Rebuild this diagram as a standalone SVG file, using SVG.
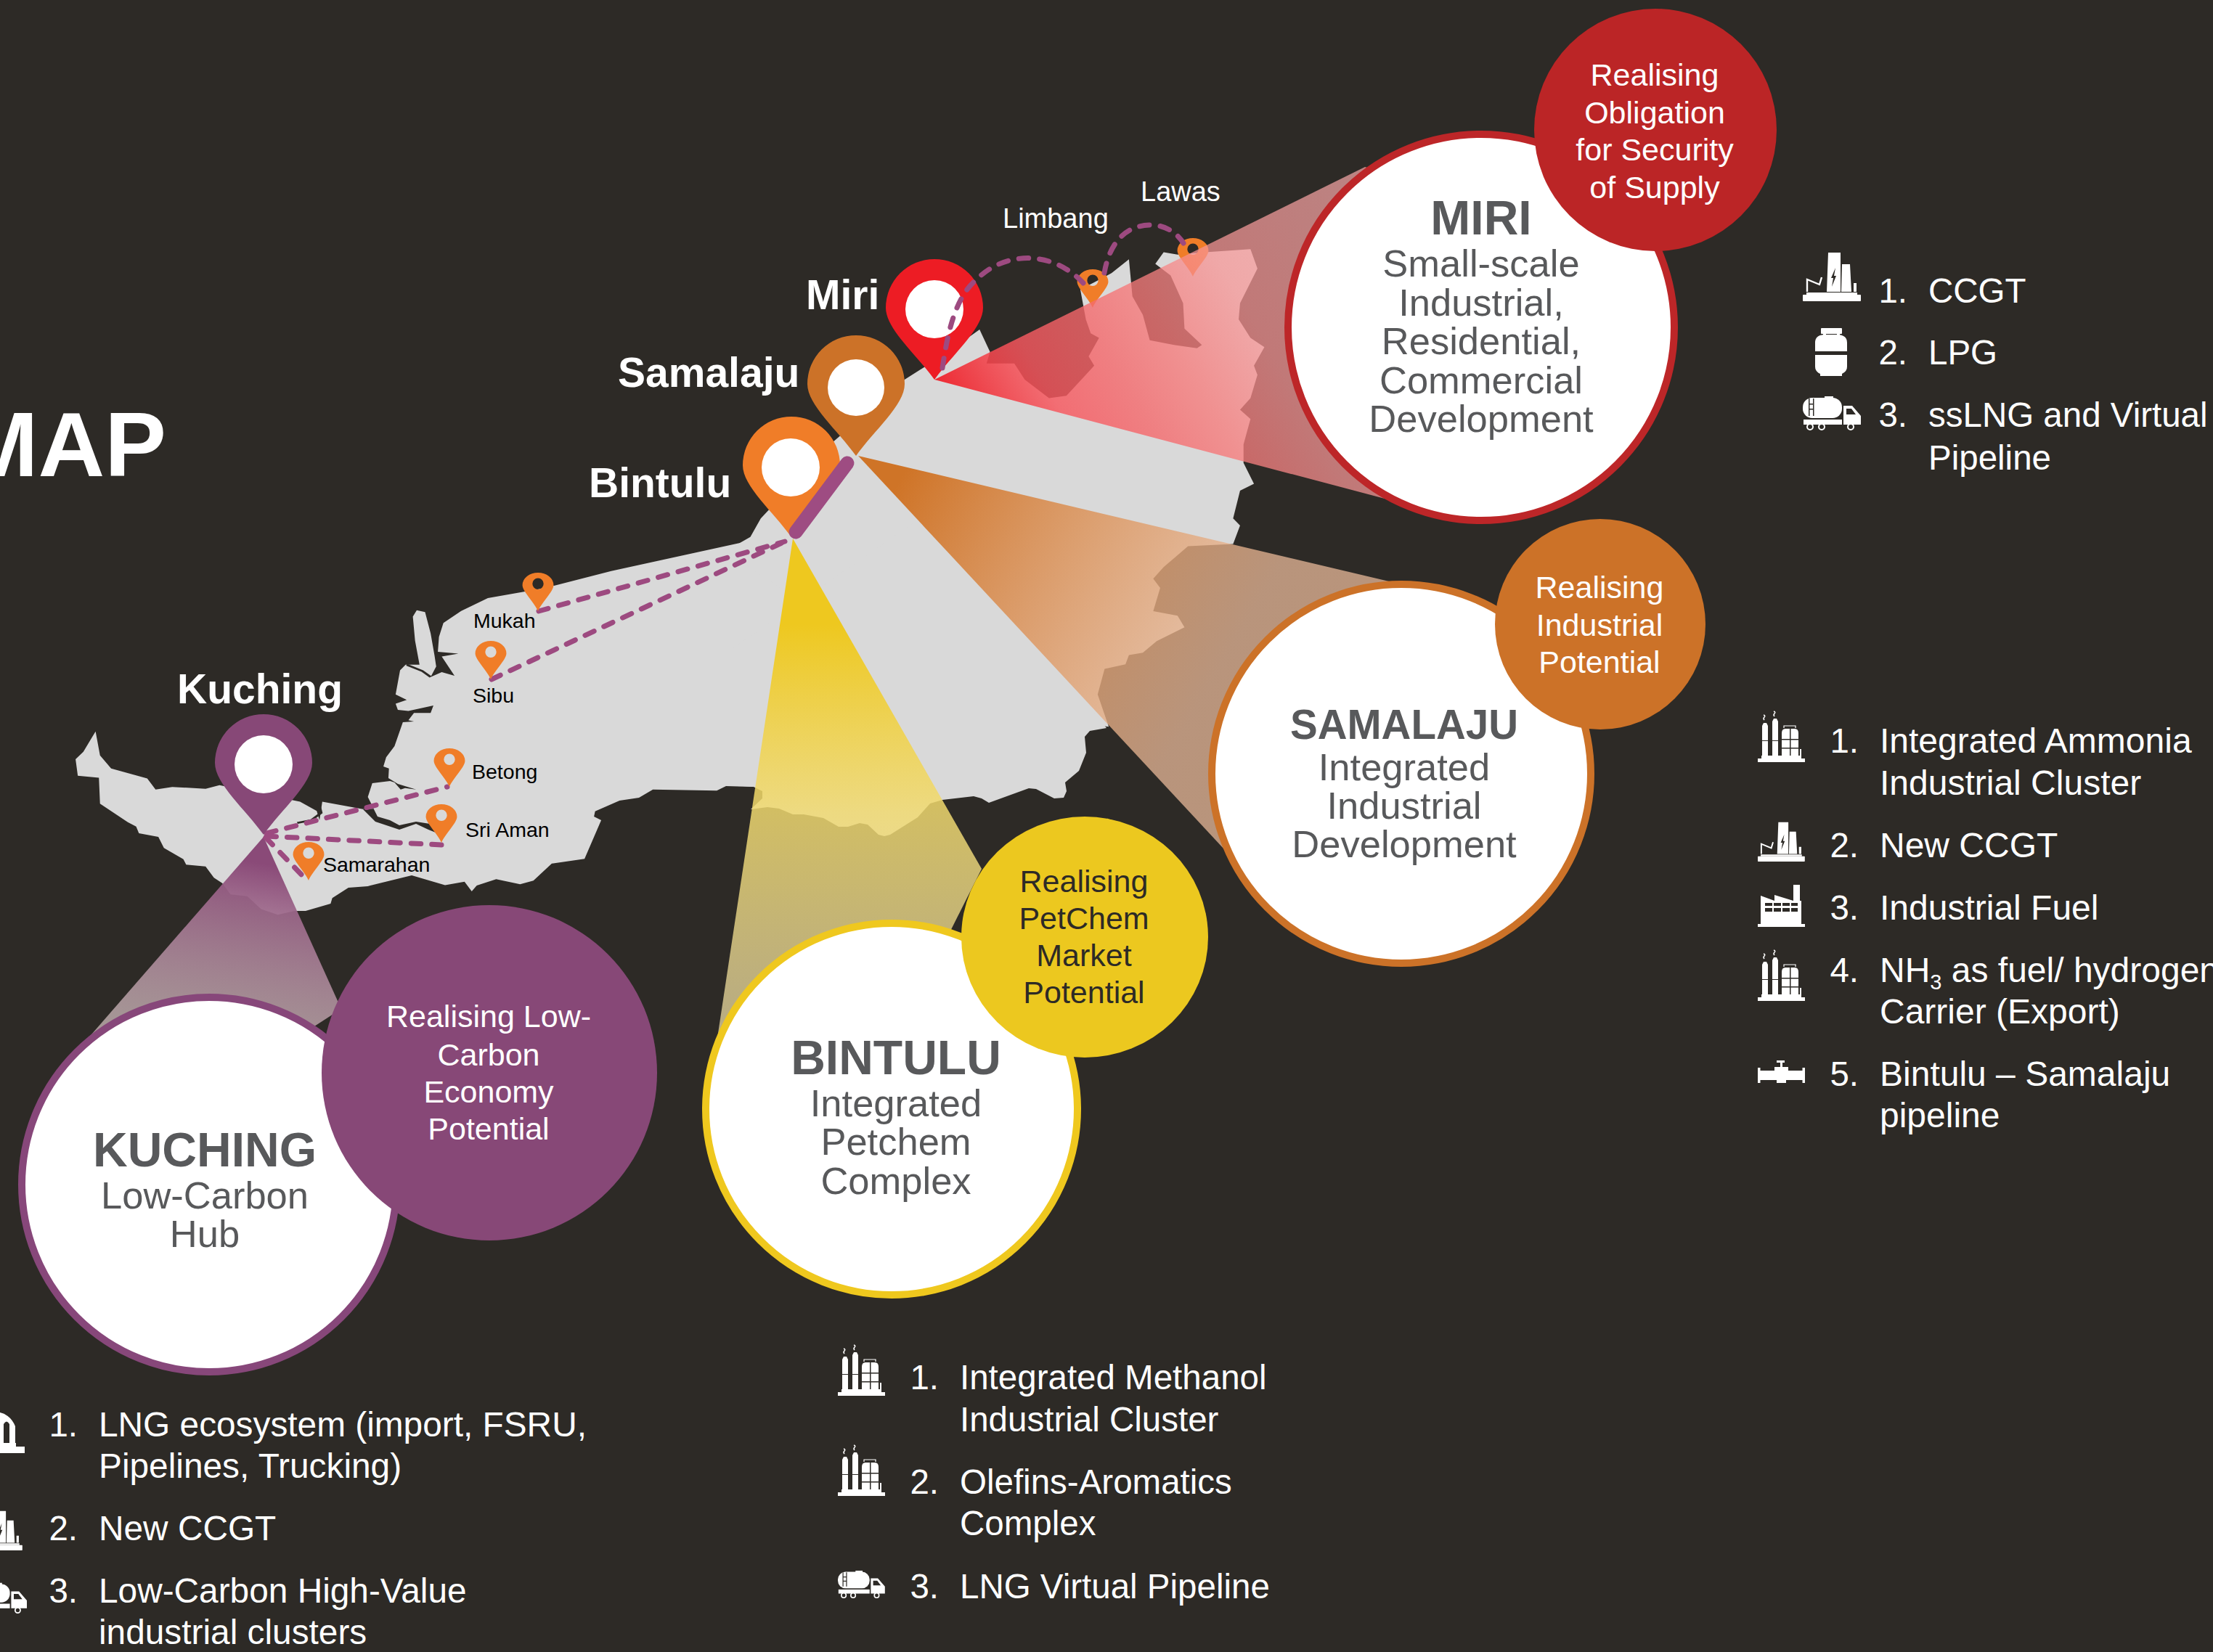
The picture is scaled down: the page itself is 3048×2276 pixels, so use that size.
<svg xmlns="http://www.w3.org/2000/svg" width="3048" height="2276" viewBox="0 0 3048 2276">
<style>
text{font-family:"Liberation Sans",Arial,sans-serif}
.city{font-size:57px;font-weight:700;fill:#fff}
.ttl{font-size:66px;font-weight:700;fill:#58595b;text-anchor:middle}
.sub{font-size:52.500px;fill:#58595b;text-anchor:middle}
.real{font-size:43px;fill:#fff;text-anchor:middle}
.realk{font-size:43px;fill:#2d2a26;text-anchor:middle}
.wl{font-size:38px;fill:#fff}
.ml{font-size:28.500px;fill:#000}
.li{font-size:47.500px;fill:#fff}
.no{font-size:47.500px;fill:#fff;text-anchor:end}
.land{fill:#d9d9d9}
.dash{fill:none;stroke:#9d4a80;stroke-width:7;stroke-dasharray:13.500 15;stroke-linecap:round}
.ring{fill:#fff;stroke-width:10}
.dk{fill:#2d2a26}
.sq{fill:none;stroke:#fff;stroke-width:1.5}
</style>
<defs>
<path id="pinL" d="M0,0 C-25,-35 -67,-70 -67,-99 A67,67 0 0 1 67,-99 C67,-70 25,-35 0,0 Z"/>
<path id="pinS" fill="#f07d28" fill-rule="evenodd" transform="scale(.32)" d="M0,0 C-10,-30 -67,-85 -67,-112 A67,54 0 0 1 67,-112 C67,-85 10,-30 0,0 Z M-24,-118 a24,24 0 1 0 48,0 a24,24 0 1 0 -48,0 Z"/>
<linearGradient id="gMiri" gradientUnits="userSpaceOnUse" x1="1287" y1="523" x2="1847" y2="200">
<stop offset="0" stop-color="#ee2a33"/><stop offset=".08" stop-color="#f03a42" stop-opacity=".92"/><stop offset=".2" stop-color="#f7585f" stop-opacity=".83"/><stop offset=".35" stop-color="#f5696c" stop-opacity=".8"/><stop offset=".48" stop-color="#f77b7b" stop-opacity=".77"/><stop offset=".65" stop-color="#f89696" stop-opacity=".73"/><stop offset="1" stop-color="#f9aaaa" stop-opacity=".7"/></linearGradient>
<linearGradient id="gSam" gradientUnits="userSpaceOnUse" x1="1240" y1="660" x2="1680" y2="920">
<stop offset="0" stop-color="#cf7427"/><stop offset="1" stop-color="#eaba9a" stop-opacity=".74"/></linearGradient>
<linearGradient id="gBin" gradientUnits="userSpaceOnUse" x1="1092" y1="860" x2="1092" y2="1400">
<stop offset="0" stop-color="#eec81f"/><stop offset=".48" stop-color="#f1da70" stop-opacity=".84"/><stop offset="1" stop-color="#e8d8a0" stop-opacity=".75"/></linearGradient>
<linearGradient id="gKuc" gradientUnits="userSpaceOnUse" x1="363" y1="1190" x2="320" y2="1440">
<stop offset="0" stop-color="#8a4a78"/><stop offset="1" stop-color="#d9c5c5" stop-opacity=".7"/></linearGradient>
<g id="icCcgt" fill="#fff">
<rect x="0" y="-9" width="80" height="9" rx="1"/><rect x="5" y="-12" width="70" height="3"/>
<path d="M33,-13 L35,-67 L52,-67 L52,-13 Z M53,-13 L54,-51 L65,-51 L67,-13 Z M70,-13 V-25 H74 V-13 Z"/>
<path d="M6,-13 V-30 L23,-23 L26,-33" fill="none" stroke="#fff" stroke-width="2.400"/>
<path class="dk" d="M45,-46 L39,-32 L42,-32 L40,-20 L46,-35 L43,-35 Z"/>
</g>
<g id="icRef" fill="#fff">
<rect x="0" y="-5" width="65" height="5"/><rect x="5" y="-9" width="55" height="4"/>
<path d="M6,-9 V-50 L8,-54 H12 L14,-50 V-9 Z M20,-9 V-56 L22,-60 H26 L28,-56 V-9 Z"/>
<path d="M33,-9 V-40 Q33,-46 38,-46 H51 Q56,-46 56,-40 V-9 Z M58,-9 V-18 H60 V-9 Z"/>
<path class="dk" d="M33,-32 H56 V-30.500 H33 Z M33,-20 H56 V-18.500 H33 Z M44,-46 H45.500 V-9 H44 Z M6,-30 H14 V-29 H6 Z M20,-30 H28 V-29 H20 Z"/>
<path d="M36,-47 V-50 H52 V-47" fill="none" stroke="#fff" stroke-width="1.200"/>
<path class="sq" d="M9,-58 Q7,-60 9,-62 T8,-65 M23,-63 Q21,-65 23,-67 T22,-70"/>
</g>
<g id="icFac" fill="#fff">
<rect x="0" y="-4" width="65" height="4"/>
<path d="M4,-4 V-43 L23,-36 V-44 L49,-36 V-58 H58 V-36 L60,-36 V-4 Z"/>
<path class="dk" d="M10,-33 H20 V-29 H10 Z M22,-33 H32 V-29 H22 Z M34,-33 H44 V-29 H34 Z M46,-33 H55 V-29 H46 Z M10,-26 H20 V-21 H10 Z M22,-26 H32 V-21 H22 Z M34,-26 H44 V-21 H34 Z M46,-26 H55 V-21 H46 Z"/>
</g>
<g id="icPipe" fill="#fff">
<rect x="0" y="-21" width="3.500" height="21"/><rect x="61.500" y="-21" width="3.500" height="21"/>
<rect x="3" y="-17" width="59" height="13"/>
<path d="M23,-4 V-22 H31 V-28 H26 V-31 H37 V-28 H34 V-22 H42 V-4 Z"/><rect x="26" y="-4" width="13" height="4"/>
</g>
<g id="icTruck" fill="#fff">
<rect x="0" y="-45" width="54" height="28" rx="13"/>
<rect x="30" y="-47" width="12" height="4"/>
<rect x="1" y="-15" width="53" height="7"/>
<path d="M56,-34 H68 L80,-20 V-8 H56 Z"/>
<path class="dk" d="M60,-30 H67 L73,-22 H60 Z M8,-44 H9.500 V-20 H8 Z M14,-44 H15.500 V-20 H14 Z M8,-37 H15 V-35.500 H8 Z M8,-30 H15 V-28.500 H8 Z"/>
<g fill="#2d2a26" stroke="#fff" stroke-width="2"><circle cx="10" cy="-5" r="4"/><circle cx="26" cy="-5" r="4"/><circle cx="66" cy="-5" r="4"/></g>
</g>
</defs>
<rect width="3048" height="2276" fill="#2d2a26"/>

<g id="map">
<path class="land" transform="translate(0,750) scale(.7653,.5102)" d="M1335,-5 L1100,72 980,118 878,145 830,180 798,212 790,250 788,290 825,295 795,303 818,355 795,345 775,358 785,330 782,300 775,240 765,183 750,178 743,195 747,260 755,325 730,325 720,340 712,405 732,420 712,430 716,447 735,450 780,435 775,455 745,455 735,475 745,478 725,480 710,545 695,575 690,600 700,605 699,631 716,647 749,662 729,658 721,662 710,643 702,639 670,645 662,682 673,715 653,715 580,695 575,745 570,720 540,695 395,650 370,660 310,655 280,662 265,632 200,605 180,570 172,505 150,560 136,580 140,625 178,630 180,700 230,750 245,762 250,780 285,790 295,820 330,850 335,865 370,870 385,900 400,915 415,945 445,950 470,985 500,1000 530,990 550,990 595,970 598,955 627,927 662,923 741,894 801,920 836,911 849,937 858,921 893,904 936,918 960,908 993,862 1052,849 1082,745 1069,735 1071,721 1115,692 1150,684 1175,662 1290,665 1310,650 1360,655 1600,600 1600,100 Z"/>
<path class="land" transform="translate(1000,0) scale(.9567,.6378)" d="M0,1190 L35,1160 50,1120 150,960 257,820 320,760 365,712 380,760 375,785 415,785 430,820 465,860 490,855 530,790 522,770 537,730 525,720 518,690 510,625 530,610 555,590 580,560 585,640 600,680 610,735 645,745 678,752 685,745 660,710 658,655 640,595 618,570 630,545 650,550 690,545 755,538 765,580 740,655 738,690 755,730 775,750 760,790 765,810 755,860 740,885 755,905 745,960 745,1000 760,1045 740,1060 730,1120 740,1135 730,1175 665,1180 630,1225 615,1250 625,1270 615,1320 650,1330 660,1355 620,1385 600,1410 580,1415 575,1435 545,1445 535,1500 551,1570 300,1500 Z"/>
<path class="land" d="M1524,1003 L1501,1007 1494,1015 1496,1037 1486,1062 1467,1078 1469,1090 1465,1099 1452,1100 1427,1087 1417,1086 1362,1106 1352,1100 1341,1097 1298,1102 1281,1107 1264,1126 1226,1150 1218,1152 1210,1150 1195,1136 1184,1134 1168,1139 1155,1139 1134,1127 1107,1122 1092,1122 1073,1114 1057,1112 1034,1115 1050,1100 1050,1090 1038,1084 1000,1083 1000,900 1287,700 Z"/>
<path fill="#2d2a26" d="M500,1115 L515,1115 520,1125 537,1130 550,1137 573,1132 592,1135 600,1147 590,1143 573,1135 550,1143 517,1132 Z"/>
<path fill="none" stroke="#2d2a26" stroke-width="5" transform="translate(0,750) scale(.7653,.5102)" d="M732,325 L760,342 775,358 M573,695 L578,725 560,745 535,752"/>
<use href="#pinS" transform="translate(1505,424)"/>
<use href="#pinS" transform="translate(1643,381)"/>
</g>

<g id="wedges">
<path fill="url(#gMiri)" d="M1287,523 L1880,230 2100,300 2100,600 1960,701 Z"/>
<path fill="url(#gSam)" d="M1182,628 L1930,805 2000,1100 1700,1185 Z"/>
<path fill="url(#gBin)" d="M1092,742 L985,1450 1250,1400 1352,1197 Z"/>
<path fill="url(#gKuc)" d="M363,1153 L100,1455 300,1500 470,1390 Z"/>
</g>

<g id="connectors">
<path class="dash" d="M742,842 L1081,746"/>
<path class="dash" d="M677,936 L1081,746"/>
<path class="dash" d="M367,1148 L616,1084"/>
<path class="dash" d="M367,1152 L608,1164"/>
<path class="dash" d="M366,1154 L422,1212"/>
</g>

<g id="pin-bintulu"><use href="#pinL" fill="#f07d28" transform="translate(1090,740)"/><circle cx="1089" cy="644" r="40" fill="#fff"/></g>
<g id="pin-miri"><use href="#pinL" fill="#ed1c24" transform="translate(1287,523)"/><circle cx="1287" cy="426" r="40" fill="#fff"/><text class="city" x="1110" y="426">Miri</text></g>
<g id="pin-samalaju"><use href="#pinL" fill="#cc7228" transform="translate(1179,628)"/><circle cx="1179" cy="534" r="39" fill="#fff"/><text class="city" x="851" y="533">Samalaju</text></g>
<g id="pin-kuching"><use href="#pinL" fill="#874877" transform="translate(363,1150)"/><circle cx="363" cy="1053" r="40" fill="#fff"/><text class="city" x="358" y="969" text-anchor="middle">Kuching</text></g>
<text class="city" x="811" y="685">Bintulu</text>

<g id="links2">
<path class="dash" d="M1298,507 C1305,460 1315,410 1345,385 C1385,345 1450,345 1492,390"/>
<path class="dash" d="M1521,376 C1528,335 1550,310 1585,310 C1605,310 1620,320 1630,335"/>
<path fill="none" stroke="#9e4c82" stroke-width="19" stroke-linecap="round" d="M1167,638 L1096,733"/>
</g>

<g id="places">
<use href="#pinS" transform="translate(741,842)"/><text class="ml" x="652" y="865">Mukah</text>
<use href="#pinS" transform="translate(676,936)"/><text class="ml" x="651" y="968">Sibu</text>
<use href="#pinS" transform="translate(619,1084)"/><text class="ml" x="650" y="1073">Betong</text>
<use href="#pinS" transform="translate(608,1161)"/><text class="ml" x="641" y="1153">Sri Aman</text>
<use href="#pinS" transform="translate(425,1213)"/><text class="ml" x="445" y="1201">Samarahan</text>
<text class="wl" x="1381" y="314">Limbang</text>
<text class="wl" x="1571" y="277">Lawas</text>
</g>

<g id="node-miri">
<circle class="ring" cx="2040" cy="451" r="266" stroke="#bd2628"/>
<text class="ttl" x="2040" y="323">MIRI</text>
<text class="sub" x="2040" y="381">Small-scale</text>
<text class="sub" x="2040" y="435">Industrial,</text>
<text class="sub" x="2040" y="488">Residential,</text>
<text class="sub" x="2040" y="542">Commercial</text>
<text class="sub" x="2040" y="595">Development</text>
<circle cx="2280" cy="179" r="167" fill="#bb2526"/>
<text class="real" x="2279" y="118">Realising</text>
<text class="real" x="2279" y="170">Obligation</text>
<text class="real" x="2279" y="221">for Security</text>
<text class="real" x="2279" y="273">of Supply</text>
</g>

<g id="node-samalaju">
<circle class="ring" cx="1930" cy="1066" r="261" stroke="#cc7228"/>
<text class="ttl" style="font-size:56.500px" x="1934" y="1018">SAMALAJU</text>
<text class="sub" x="1934" y="1075">Integrated</text>
<text class="sub" x="1934" y="1128">Industrial</text>
<text class="sub" x="1934" y="1181">Development</text>
<circle cx="2204" cy="860" r="145" fill="#cc7228"/>
<text class="real" x="2203" y="824">Realising</text>
<text class="real" x="2203" y="876">Industrial</text>
<text class="real" x="2203" y="927">Potential</text>
</g>

<g id="node-bintulu">
<circle class="ring" cx="1228" cy="1528" r="256" stroke="#efc81e"/>
<text class="ttl" x="1234" y="1480">BINTULU</text>
<text class="sub" x="1234" y="1538">Integrated</text>
<text class="sub" x="1234" y="1591">Petchem</text>
<text class="sub" x="1234" y="1645">Complex</text>
<ellipse cx="1494" cy="1291" rx="170" ry="166" fill="#ecc81f"/>
<text class="realk" x="1493" y="1229">Realising</text>
<text class="realk" x="1493" y="1280">PetChem</text>
<text class="realk" x="1493" y="1331">Market</text>
<text class="realk" x="1493" y="1382">Potential</text>
</g>

<g id="node-kuching">
<circle class="ring" cx="288" cy="1632" r="258" stroke="#87477a"/>
<text class="ttl" x="282" y="1607">KUCHING</text>
<text class="sub" x="282" y="1665">Low-Carbon</text>
<text class="sub" x="282" y="1718">Hub</text>
<circle cx="674" cy="1478" r="231" fill="#874877"/>
<text class="real" x="673" y="1415">Realising Low-</text>
<text class="real" x="673" y="1468">Carbon</text>
<text class="real" x="673" y="1519">Economy</text>
<text class="real" x="673" y="1570">Potential</text>
</g>

<text id="title" x="229" y="656" text-anchor="end" font-size="127" font-weight="700" fill="#fff">MAP</text>

<g id="list-miri">
<use href="#icCcgt" transform="translate(2483,415)"/>
<g fill="#fff"><rect x="2508" y="452" width="29" height="8" rx="1"/><rect x="2511" y="458" width="4" height="8"/><rect x="2530" y="458" width="4" height="8"/><path d="M2500,484 V472 Q2500,462 2512,461 H2532 Q2544,462 2544,472 V484 Z M2500,489 H2544 V505 Q2544,512 2537,515 V518 H2507 V515 Q2500,512 2500,505 Z"/></g>
<use href="#icTruck" transform="translate(2483,593)"/>
<text class="no" x="2627" y="417">1.</text><text class="li" x="2656" y="417">CCGT</text>
<text class="no" x="2627" y="502">2.</text><text class="li" x="2656" y="502">LPG</text>
<text class="no" x="2627" y="588">3.</text><text class="li" x="2656" y="588">ssLNG and Virtual</text>
<text class="li" x="2656" y="647">Pipeline</text>
</g>

<g id="list-samalaju">
<use href="#icRef" transform="translate(2421,1050)"/>
<use href="#icCcgt" transform="translate(2421,1187) scale(.81)"/>
<use href="#icFac" transform="translate(2421,1277)"/>
<use href="#icRef" transform="translate(2421,1379)"/>
<use href="#icPipe" transform="translate(2421,1492)"/>
<text class="no" x="2560" y="1037">1.</text><text class="li" x="2589" y="1037" style="font-size:48px">Integrated Ammonia</text>
<text class="li" x="2589" y="1095" style="font-size:48px">Industrial Cluster</text>
<text class="no" x="2560" y="1181">2.</text><text class="li" x="2589" y="1181" style="font-size:48px">New CCGT</text>
<text class="no" x="2560" y="1267">3.</text><text class="li" x="2589" y="1267" style="font-size:48px">Industrial Fuel</text>
<text class="no" x="2560" y="1353">4.</text><text class="li" x="2589" y="1353" style="font-size:48px">NH<tspan font-size="29" dy="10">3</tspan><tspan dy="-10"> as fuel/ hydrogen</tspan></text>
<text class="li" x="2589" y="1410" style="font-size:48px">Carrier (Export)</text>
<text class="no" x="2560" y="1496">5.</text><text class="li" x="2589" y="1496" style="font-size:48px">Bintulu – Samalaju</text>
<text class="li" x="2589" y="1553" style="font-size:48px">pipeline</text>
</g>

<g id="list-bintulu">
<use href="#icRef" transform="translate(1154,1923)"/>
<use href="#icRef" transform="translate(1154,2061)"/>
<use href="#icTruck" transform="translate(1154,2202) scale(.81)"/>
<text class="no" x="1293" y="1914">1.</text><text class="li" x="1322" y="1914">Integrated Methanol</text>
<text class="li" x="1322" y="1972">Industrial Cluster</text>
<text class="no" x="1293" y="2058">2.</text><text class="li" x="1322" y="2058">Olefins-Aromatics</text>
<text class="li" x="1322" y="2115">Complex</text>
<text class="no" x="1293" y="2202">3.</text><text class="li" x="1322" y="2202">LNG Virtual Pipeline</text>
</g>

<g id="list-kuching">
<g fill="#fff"><rect x="-40" y="1993" width="74" height="9"/><rect x="-40" y="1988" width="62" height="5"/><path fill-rule="evenodd" d="M-30,1990 V1965 A28,33 0 0 1 21,1965 V1990 Z M5,1990 H13 V1962 Q9,1955 5,1962 Z"/></g>
<use href="#icCcgt" transform="translate(-34,2136) scale(.81)"/>
<use href="#icTruck" transform="translate(-35,2223) scale(.9)"/>
<text class="no" x="107" y="1979">1.</text><text class="li" x="136" y="1979" style="font-size:47.800px">LNG ecosystem (import, FSRU,</text>
<text class="li" x="136" y="2036" style="font-size:47.800px">Pipelines, Trucking)</text>
<text class="no" x="107" y="2122">2.</text><text class="li" x="136" y="2122" style="font-size:47.800px">New CCGT</text>
<text class="no" x="107" y="2208">3.</text><text class="li" x="136" y="2208" style="font-size:47.800px">Low-Carbon High-Value</text>
<text class="li" x="136" y="2265" style="font-size:47.800px">industrial clusters</text>
</g>
</svg>
